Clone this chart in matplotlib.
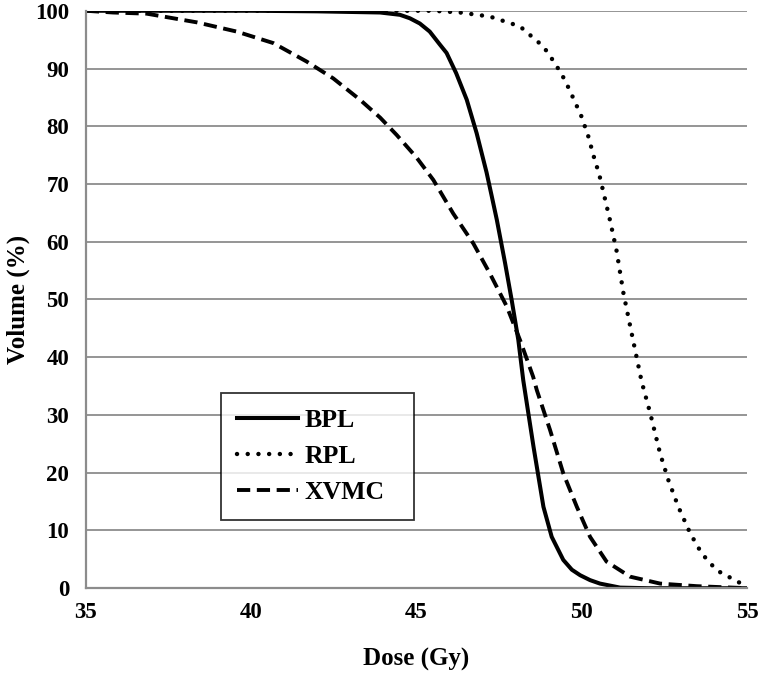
import matplotlib.pyplot as plt

# Dose-volume histogram values
bpl_dose = [35, 40, 42, 43.9, 44.5, 44.8, 45.1, 45.4, 45.7, 45.91, 46.2, 46.52, 46.82, 47.12,
            47.28, 47.43, 47.68, 47.88, 48.08, 48.23, 48.54, 48.84, 49.09, 49.44, 49.7,
            49.95, 50.25, 50.55, 51.16, 52.0, 55]
bpl_vol = [100, 100, 99.9, 99.7, 99.3, 98.7, 97.8, 96.4, 94.2, 92.7, 89.2, 84.6, 78.8, 72.0,
           67.8, 63.8, 56.3, 49.9, 43.0, 36.0, 24.5, 14.1, 8.9, 4.9, 3.2,
           2.25, 1.4, 0.8, 0.1, 0, 0]

rpl_dose = [35, 45.5, 46.32, 47.22, 48.13, 48.84, 49.19, 49.49, 49.74, 49.99, 50.2, 50.35,
            50.53, 50.67, 50.85, 51.05, 51.26, 51.51, 51.81, 52.07, 52.37, 52.62, 52.92,
            53.28, 53.63, 54.08, 54.79, 55]
rpl_vol = [100, 100, 99.7, 99.0, 97.3, 93.8, 90.9, 88.0, 84.9, 81.7, 78.2, 75.0,
           71.6, 68.2, 63.8, 58.5, 51.1, 44.1, 35.8, 30.3, 23.3, 18.7, 14.1,
           9.5, 6.0, 3.1, 0.9, 0.4]

xvmc_dose = [35, 35.82, 36.84, 38.35, 39.56, 40.67, 41.68, 42.48, 43.29, 43.9, 44.4, 45.0,
             45.51, 46.11, 46.72, 47.22, 47.73, 48.13, 48.53, 48.64, 49.04, 49.44, 49.85,
             50.25, 50.75, 51.46, 52.37, 53.48, 55]
xvmc_vol = [100, 99.7, 99.5, 98.0, 96.4, 94.4, 91.2, 88.3, 84.6, 81.5, 78.5, 74.6,
            70.7, 64.9, 59.7, 54.5, 48.8, 43.0, 36.6, 34.3, 27.4, 19.9, 14.1,
            8.9, 4.6, 2.0, 0.8, 0.35, 0]

x_ticks = [35, 40, 45, 50, 55]
y_ticks = [0, 10, 20, 30, 40, 50, 60, 70, 80, 90, 100]

plt.rcParams['font.family'] = ['Liberation Serif', 'DejaVu Serif']
plt.rcParams['font.weight'] = 'bold'

fig = plt.figure(figsize=(7.6, 6.73), dpi=100)
ax = fig.add_axes([0.113, 0.126, 0.870, 0.858])

ax.plot(bpl_dose, bpl_vol, color='black', lw=2.9, ls='-', label='BPL')
ax.plot(rpl_dose, rpl_vol, color='black', lw=3.2, ls=(0, (0.01, 2.4)),
        dash_capstyle='round', label='RPL')
ax.plot(xvmc_dose, xvmc_vol, color='black', lw=2.8, ls=(0, (3.4, 1.7)), label='XVMC')

ax.set_xlim(35, 55)
ax.set_ylim(0, 100)
ax.set_xticks(x_ticks)
ax.set_yticks(y_ticks)
ax.yaxis.grid(True, color='#8c8c8c', lw=1.3)
ax.set_axisbelow(True)
ax.tick_params(length=0, labelsize=16.5)
ax.tick_params(axis='y', pad=12)
ax.tick_params(axis='x', pad=10)
for lab in ax.get_xticklabels() + ax.get_yticklabels():
    lab.set_fontweight('bold')

for side in ['top', 'right']:
    ax.spines[side].set_visible(False)
for side in ['left', 'bottom']:
    ax.spines[side].set_color('#8c8c8c')
    ax.spines[side].set_linewidth(1.6)

ax.set_xlabel('Dose (Gy)', fontsize=18, fontweight='bold', labelpad=18)
ax.set_ylabel('Volume (%)', fontsize=18, fontweight='bold', labelpad=4)

leg = ax.legend(loc='upper left', bbox_to_anchor=(0.2040, 0.138, 0.292, 0.2), mode='expand',
                borderaxespad=0, fontsize=18.5, frameon=True, fancybox=False,
                edgecolor='black', handlelength=2.4, handletextpad=0.25,
                borderpad=0.62, labelspacing=0.5)
leg.get_frame().set_linewidth(1.3)
for t in leg.get_texts():
    t.set_fontweight('bold')

fig.savefig('out.png', dpi=100)
